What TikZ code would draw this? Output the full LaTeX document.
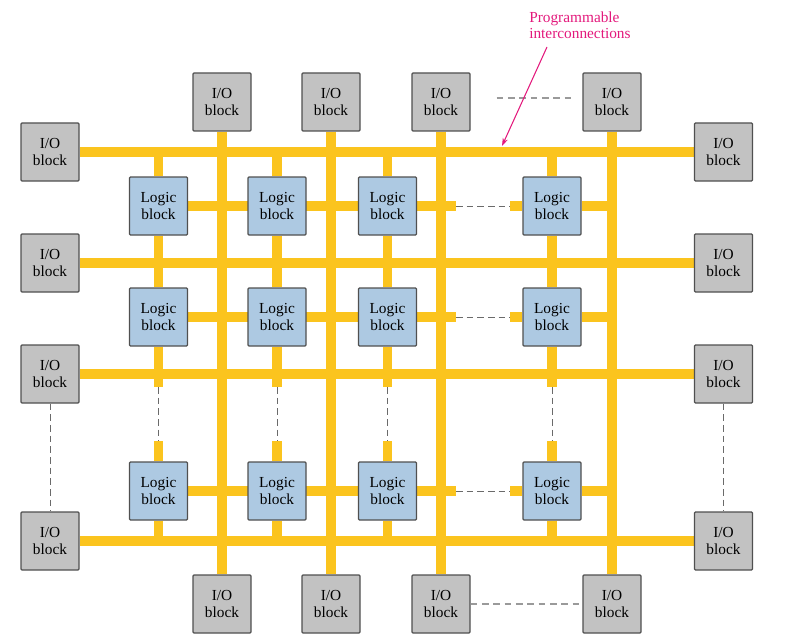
\documentclass[tikz,border=0pt]{standalone}
\usepackage{fontspec}
\setmainfont{Liberation Serif}
\usetikzlibrary{arrows.meta,calc}
\definecolor{busyellow}{HTML}{FBC41E}
\definecolor{iogray}{HTML}{C2C2C2}
\definecolor{logicblue}{HTML}{ADC9E2}
\definecolor{boxedge}{HTML}{505050}
\definecolor{dashgray}{HTML}{6A6A6A}
\definecolor{lightdash}{HTML}{9A9A9A}
\definecolor{labmag}{HTML}{E3197C}
\pgfdeclarelayer{bg}
\pgfsetlayers{bg,main}
\begin{document}
\begin{tikzpicture}[x=0.75pt,y=-0.75pt,
  iobox/.style={draw=boxedge, fill=iogray, line width=0.9pt, minimum width=43.5pt,
    minimum height=43.5pt, inner sep=0pt, align=center, rounded corners=0.8pt,
    font=\fontsize{11.5}{13}\selectfont},
  logicbox/.style={iobox, fill=logicblue},
  bus/.style={draw=busyellow, line width=7.2pt},
  dashline/.style={draw=dashgray, line width=0.75pt, dash pattern=on 5pt off 3pt},
  lightdashline/.style={draw=lightdash, line width=0.9pt, dash pattern=on 5pt off 3.5pt},
  labeltext/.style={text=labmag, align=left, font=\fontsize{11.5}{12}\selectfont, inner sep=0pt}
]
\useasboundingbox (0,0) rectangle (793,642);

% I/O blocks
\foreach \n/\x in {1/222,2/331,3/441,4/612}{
  \node[iobox] (t\n) at (\x,102) {I/O\\block};
  \node[iobox] (b\n) at (\x,604) {I/O\\block};
}
\foreach \n/\y in {1/152,2/263,3/374,4/541}{
  \node[iobox] (l\n) at (50,\y) {I/O\\block};
  \node[iobox] (r\n) at (723.5,\y) {I/O\\block};
}
% Logic blocks
\foreach \r/\y in {1/206,2/317,3/491}{
  \foreach \c/\x in {1/158.5,2/277,3/387.5,4/552}{
    \node[logicbox] (L\r\c) at (\x,\y) {Logic\\block};
  }
}

\begin{pgfonlayer}{bg}
  % buses
  \foreach \n in {1,2,3,4}{
    \draw[bus] (l\n.east) -- (r\n.west);
    \draw[bus] (t\n.south) -- (b\n.north);
  }
  % vertical stubs of logic columns
  \foreach \c in {1,2,3,4}{
    \draw[bus] (L1\c) -- (L1\c |- l1);
    \draw[bus] (L1\c) -- (L2\c);
    \draw[bus] (L2\c) -- ($(L2\c |- l3)+(0,13)$);
    \draw[bus] ($(L3\c.north)+(0,-20)$) -- (L3\c);
    \draw[bus] (L3\c) -- (L3\c |- l4);
  }
  % horizontal stubs of logic rows
  \foreach \r in {1,2,3}{
    \draw[bus] (L\r1) -- (L\r3) -- ($(L\r3 -| t3)+(15,0)$);
    \draw[bus] ($(L\r4.west)+(-12,0)$) -- (L\r4);
    \draw[bus] (L\r4) -- (L\r4 -| t4);
  }
\end{pgfonlayer}

% dashed continuations
\foreach \c in {1,2,3,4}{
  \draw[dashline] ($(L2\c |- l3)+(0,13)$) -- ($(L3\c.north)+(0,-20)$);
}
\foreach \r in {1,2,3}{
  \draw[dashline] ($(L\r3 -| t3)+(15,0)$) -- ($(L\r4.west)+(-12,0)$);
}
\draw[dashline] (l3.south) -- (l4.north);
\draw[dashline] (r3.south) -- (r4.north);
\draw[lightdashline] ($(t3.east)+(26,-4)$) -- ($(t4.west)+(-10,-4)$);
\draw[lightdashline] (b3.east) -- (b4.west);

% label
\node[labeltext, anchor=west] (lab) at (529,25) {Programmable\\interconnections};
\coordinate (labtail) at (547,47);
\coordinate (labtip) at (502,146);
\draw[labmag, line width=0.8pt, -{Stealth[length=6pt,width=4pt]}] (labtail) -- (labtip);
\end{tikzpicture}
\end{document}
